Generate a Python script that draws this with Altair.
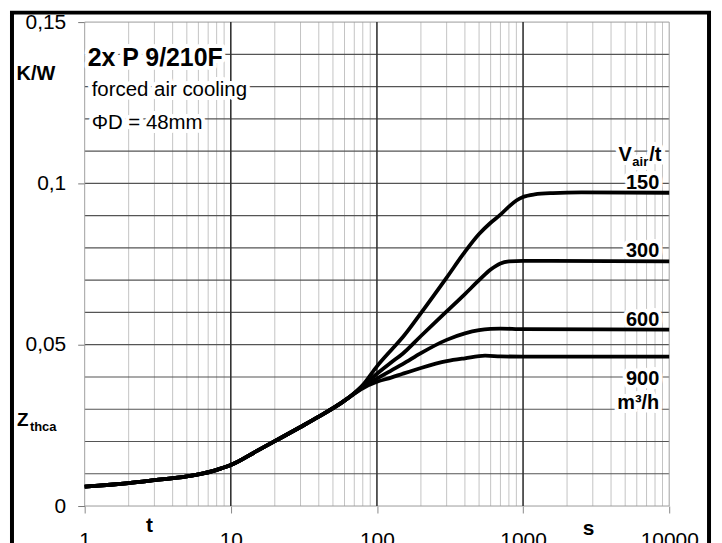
import altair as alt
import pandas as pd

# ---------------- data ----------------
t_common = [1, 2, 3, 5, 7.5, 8.5, 10, 15, 20, 30, 40, 55, 65]
z_common = [0.0060, 0.0071, 0.0080, 0.0092, 0.0108, 0.0116, 0.0127, 0.0170, 0.0201, 0.0245, 0.0277, 0.0315, 0.0338]

t150 = [80, 100, 125, 150, 200, 300, 400, 500, 600, 700, 800, 900, 1000, 1200, 1600, 2500, 10000]
z150 = [0.0375, 0.0433, 0.0483, 0.0523, 0.0598, 0.0708, 0.0788, 0.0843, 0.0878, 0.0903, 0.0928, 0.0947,
        0.0958, 0.0966, 0.0970, 0.0972, 0.0971]

t300 = [80, 100, 125, 150, 200, 300, 400, 500, 600, 700, 800, 1000, 10000]
z300 = [0.0372, 0.0410, 0.0445, 0.0472, 0.0527, 0.0603, 0.0657, 0.0700, 0.0733, 0.0752, 0.0758, 0.0760, 0.0758]

t600 = [80, 100, 125, 150, 200, 300, 400, 500, 600, 700, 1000, 10000]
z600 = [0.0368, 0.0395, 0.0420, 0.0440, 0.0474, 0.0515, 0.0535, 0.0545, 0.0549, 0.0550, 0.0548, 0.0547]

t900 = [80, 100, 125, 150, 200, 300, 400, 550, 700, 1000, 10000]
z900 = [0.0365, 0.0385, 0.0398, 0.0410, 0.0428, 0.0449, 0.0458, 0.0466, 0.0464, 0.0463, 0.0463]

x_major = [1, 10, 100, 1000, 10000]
x_minor = [m * 10 ** k for k in range(4) for m in range(2, 10)]
y_labels = [0, 0.05, 0.1, 0.15]
y_grid = [round(0.01 * i, 2) for i in range(1, 15)]

series = {"150": (t150, z150), "300": (t300, z300), "600": (t600, z600), "900": (t900, z900)}

rows = []
for name, (ts, zs) in series.items():
    for t, z in zip(t_common + ts, z_common + zs):
        rows.append({"series": name, "t": t, "z": z})
curves = pd.DataFrame(rows)

FONT = "Liberation Sans"
xscale = alt.Scale(type="log", domain=[1, 10000], nice=False)
yscale = alt.Scale(domain=[0, 0.15], nice=False, zero=False)

x_axis = alt.Axis(values=x_major, format="d", grid=False, domain=False, tickSize=7,
                  tickColor="#888888", labelFontSize=21, labelFont=FONT, labelColor="black",
                  labelPadding=17, labelBaseline="top", labelFlush=False, labelOverlap=False, title=None)
y_axis = alt.Axis(values=y_labels, grid=False, domain=False, tickSize=7, tickColor="#777777",
                  labelExpr="replace(format(datum.value, '~g'), '.', ',')",
                  labelFontSize=21, labelFont=FONT, labelColor="black", labelPadding=12,
                  labelFlush=False, labelOverlap=False, title=None)

X = lambda: alt.X("t:Q", scale=xscale, axis=x_axis, title=None)
Y = lambda: alt.Y("z:Q", scale=yscale, axis=y_axis, title=None)

# ---------------- grid ----------------
vminor = alt.Chart(pd.DataFrame({"t": x_minor})).mark_rule(color="#c4c4c4", strokeWidth=1).encode(x=X())
hgrid = alt.Chart(pd.DataFrame({"z": y_grid})).mark_rule(color="#555555", strokeWidth=1.2).encode(y=Y())
hedge = alt.Chart(pd.DataFrame({"z": [0, 0.15]})).mark_rule(color="#9a9a9a", strokeWidth=1).encode(y=Y())
vmajor = alt.Chart(pd.DataFrame({"t": [10, 100, 1000]})).mark_rule(color="#333333", strokeWidth=1.6).encode(x=X())
vedge = alt.Chart(pd.DataFrame({"t": [1, 10000]})).mark_rule(color="#a0a0a0", strokeWidth=1).encode(x=X())

# ---------------- curves ----------------
lines = alt.Chart(curves).mark_line(color="black", strokeWidth=3.8, interpolate="monotone").encode(
    x=X(), y=Y(), detail="series:N")

# ---------------- annotations ----------------
halos, texts = [], []

def label(text, x, y, size, bold=False, align="left", halo=False):
    base = alt.Chart(pd.DataFrame({"s": [text]}))
    kw = dict(font=FONT, fontSize=size, fontWeight="bold" if bold else "normal",
              align=align, baseline="alphabetic")
    if halo:
        halos.append(base.mark_text(color="white", stroke="white", strokeWidth=8, strokeJoin="round", **kw)
                     .encode(text="s:N", x=alt.value(x), y=alt.value(y)))
    texts.append(base.mark_text(color="black", **kw).encode(text="s:N", x=alt.value(x), y=alt.value(y)))

label("K/W", -49, 58, 20, bold=True, align="center")
label("Z", -68, 406, 19, bold=True)
label("thca", -55, 411, 13, bold=True)
label("t", 65, 512, 21, bold=True, align="center")
label("s", 506, 515, 21, bold=True, align="center")
label("2x P 9/210F", 3, 44, 25, bold=True, halo=True)
label("forced air cooling", 7, 74, 20.5, halo=True)
label("\u03a6D = 48mm", 7, 107, 20.5, halo=True)
label("V", 536, 140, 20, bold=True, halo=True)
label("air", 550, 145, 13, bold=True, halo=True)
label("/t", 567, 140, 20, bold=True, halo=True)
label("150", 577, 168, 20, bold=True, align="right", halo=True)
label("300", 577, 236, 20, bold=True, align="right", halo=True)
label("600", 577, 305, 20, bold=True, align="right", halo=True)
label("900", 577, 364, 20, bold=True, align="right", halo=True)
label("m\u00b3/h", 577, 389, 20, bold=True, align="right", halo=True)

frame = alt.Chart(pd.DataFrame({"k": [0]})).mark_rect(
    fillOpacity=0, stroke="black", strokeWidth=4).encode(
    x=alt.value(-73), x2=alt.value(627), y=alt.value(-9.5), y2=alt.value(570))

chart = alt.layer(vminor, hgrid, hedge, vmajor, vedge, *halos, lines, *texts, frame).properties(
    width=587, height=486,
    padding={"left": 77, "top": 13, "right": 45, "bottom": 40},
    autosize=alt.AutoSizeParams(type="none"),
    background="white",
).configure_view(stroke=None)

chart.save("out.html", embed_options={"renderer": "svg", "actions": False})
